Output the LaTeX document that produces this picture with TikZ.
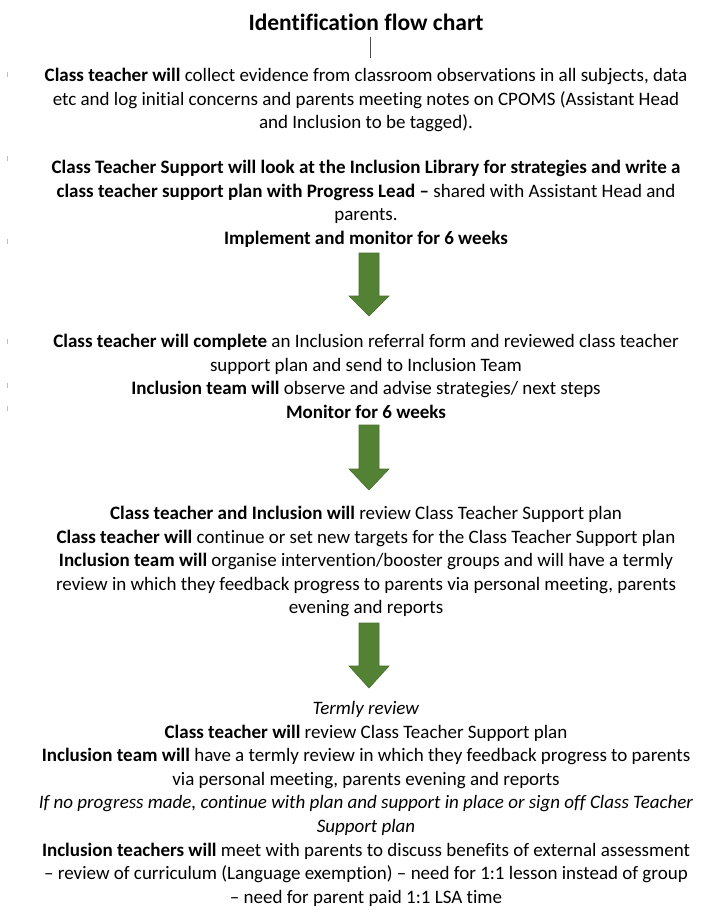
\documentclass[tikz,border=0pt]{standalone}
\usepackage{fontspec}
\setmainfont[RawFeature={-liga;-clig;-dlig;-calt}]{Carlito}
\usetikzlibrary{calc}
\definecolor{arrowgreen}{RGB}{84,130,53}
\definecolor{tickgrey}{RGB}{185,192,205}
\def\bodysize{\fontsize{19}{23.6}\selectfont}
\def\titlesize{\fontsize{23.5}{28}\selectfont\bfseries}
\def\arrowx{369}
\tikzstyle{steptext}=[align=center, inner sep=0pt, anchor=north, font=\bodysize]
\tikzstyle{titletext}=[inner sep=0pt, font=\titlesize]
\tikzstyle{blockarrow}=[fill=arrowgreen, draw=arrowgreen!85!black, line width=0.6pt]
\tikzstyle{tick}=[draw=tickgrey, line width=0.8pt]
\newcommand\greenarrow[3]{% top, head base, tip
  \path[blockarrow] (\arrowx-10,#1) -- (\arrowx+10,#1) -- (\arrowx+10,#2)
    -- (\arrowx+20,#2) -- (\arrowx,#3) -- (\arrowx-20,#2) -- (\arrowx-10,#2) -- cycle;}

\begin{document}
\begin{tikzpicture}[x=1pt, y=-1pt]
\useasboundingbox (0,0) rectangle (704,912);
\node [titletext] (title) at (366,22) {Identification flow chart};
\coordinate (bartop) at (370,37);
\coordinate (barbot) at (370,58);
\draw [line width=0.8pt, black!70] (bartop) -- (barbot);
\node [steptext] (evidence) at (366,68) {\textbf{Class teacher will} collect evidence from classroom observations in all subjects, data\\
etc and log initial concerns and parents meeting notes on CPOMS (Assistant Head\\
and Inclusion to be tagged).};
\node [steptext] (support) at (366,160) {\textbf{Class Teacher Support will look at the Inclusion Library for strategies and write a}\\
\textbf{class teacher support plan with Progress Lead –} shared with Assistant Head and\\
parents.\\
\textbf{Implement and monitor for 6 weeks}};
\greenarrow{253}{296}{316}
\node [steptext] (referral) at (366,334) {\textbf{Class teacher will complete} an Inclusion referral form and reviewed class teacher\\
support plan and send to Inclusion Team\\
\textbf{Inclusion team will} observe and advise strategies/ next steps\\
\textbf{Monitor for 6 weeks}};
\greenarrow{425}{469}{490}
\node [steptext] (review) at (366,506) {\textbf{Class teacher and Inclusion will} review Class Teacher Support plan\\
\textbf{Class teacher will} continue or set new targets for the Class Teacher Support plan\\
\textbf{Inclusion team will} organise intervention/booster groups and will have a termly\\
review in which they feedback progress to parents via personal meeting, parents\\
evening and reports};
\greenarrow{623}{666}{688}
\node [steptext] (termly) at (366,701) {\textit{Termly review}\\
\textbf{Class teacher will} review Class Teacher Support plan\\
\textbf{Inclusion team will} have a termly review in which they feedback progress to parents\\
via personal meeting, parents evening and reports\\
\textit{If no progress made, continue with plan and support in place or sign off Class Teacher}\\
\textit{Support plan}\\
\textbf{Inclusion teachers will} meet with parents to discuss benefits of external assessment\\
– review of curriculum (Language exemption) – need for 1:1 lesson instead of group\\
– need for parent paid 1:1 LSA time};
\foreach \y in {72,156,239,339,383,406}
  \draw [tick] (7,\y) -- (7,\y+5);
\end{tikzpicture}
\end{document}
